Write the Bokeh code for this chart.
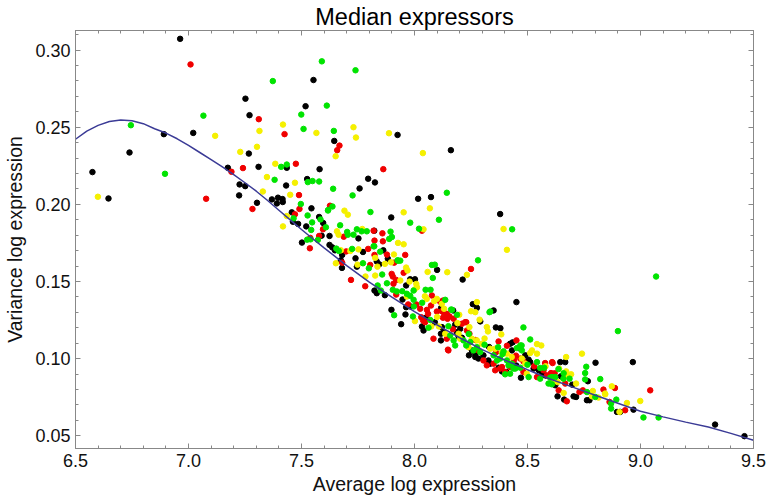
from bokeh.plotting import figure
from bokeh.models import Range1d, FixedTicker, PrintfTickFormatter, LinearAxis
from bokeh.embed import file_html
from bokeh.resources import INLINE

# ---- data ----
curve_x = [6.5, 6.55, 6.6, 6.65, 6.7, 6.75, 6.8, 6.85, 6.9, 6.95, 7.0, 7.05, 7.1, 7.15, 7.2, 7.25,
           7.3, 7.35, 7.4, 7.45, 7.5, 7.55, 7.6, 7.7, 7.8, 7.9, 8.0,
           8.1, 8.2, 8.3, 8.4, 8.5, 8.6, 8.7, 8.8, 8.9, 9.0, 9.1, 9.2, 9.3, 9.4, 9.5]
curve_y = [0.2422, 0.2475, 0.2512, 0.2537, 0.2547, 0.2542, 0.2523, 0.2490, 0.2462, 0.2425, 0.2382,
           0.2336, 0.2290, 0.2243, 0.2193, 0.2140, 0.2085, 0.2025, 0.1962, 0.1899, 0.1837, 0.1777,
           0.1718, 0.1603, 0.1495, 0.1398, 0.1305, 0.1218, 0.1135, 0.1058, 0.0990,
           0.0928, 0.0868, 0.0815, 0.0762, 0.0710, 0.0658, 0.0622, 0.0588, 0.0556, 0.0515, 0.0471]

black_x = [6.963, 7.252, 7.270, 6.891, 7.021, 6.739, 6.575, 6.646, 7.267, 7.174, 7.310, 7.226, 7.251, 7.224, 7.303,
           7.518, 7.435, 7.580, 7.525, 7.432, 7.369, 7.396, 7.416, 7.553, 7.645, 7.925, 8.161, 7.795, 7.825, 7.757,
           8.016, 8.073, 7.897, 8.379, 7.391, 7.417, 7.544, 7.457, 7.578, 7.462, 7.485, 7.596, 7.521, 7.822, 7.752,
           7.589, 7.502, 7.624, 7.624, 7.636, 7.648, 7.680, 7.772, 7.862, 7.882, 7.674, 7.739, 7.745, 7.679, 7.833,
           7.844, 8.100, 8.213, 8.002, 7.981, 7.963, 7.823, 7.833, 7.869, 7.947, 7.963, 7.982, 7.898, 7.941, 7.960,
           8.118, 8.171, 8.258, 8.276, 8.451, 8.350, 8.291, 8.360, 8.380, 8.434, 8.490, 8.505, 8.667, 8.966, 8.801,
           8.645, 8.767, 8.648, 8.698, 8.623, 8.633, 8.662, 8.704, 8.715, 8.763, 8.774, 8.896, 8.910, 8.969, 9.330,
           9.460, 8.121, 8.128, 8.117, 8.188, 8.195, 8.202, 8.254, 8.269, 8.283, 8.305, 8.327, 8.335, 8.372, 8.387,
           8.423, 8.468, 8.512, 8.527, 8.564, 8.033, 8.040, 8.117, 8.241, 8.269, 8.406, 8.471, 8.431,
           8.05, 8.09, 8.21, 8.33, 8.45, 8.55, 8.58, 8.18]
black_y = [0.3073, 0.2685, 0.2578, 0.2455, 0.2463, 0.2336, 0.2209, 0.2038, 0.2329, 0.2237, 0.2243, 0.2129, 0.2118, 0.2058, 0.2010,
           0.2636, 0.2237, 0.2228, 0.2164, 0.2122, 0.2032, 0.2043, 0.2034, 0.2806, 0.2411, 0.2450, 0.2351, 0.2166, 0.2142, 0.2103,
           0.2036, 0.2047, 0.1915, 0.1937, 0.2006, 0.2015, 0.1974, 0.1948, 0.1918, 0.1887, 0.1873, 0.1879, 0.1857, 0.1829, 0.1779,
           0.1797, 0.1752, 0.1795, 0.1737, 0.1721, 0.1702, 0.1672, 0.1691, 0.1702, 0.1648, 0.1637, 0.1650, 0.1596, 0.1588, 0.1630,
           0.1611, 0.1575, 0.1512, 0.1514, 0.1514, 0.1474, 0.1441, 0.1424, 0.1411, 0.1383, 0.1333, 0.1338, 0.1316, 0.1223, 0.1286,
           0.1329, 0.1312, 0.1353, 0.1329, 0.1366, 0.1312, 0.1241, 0.1202, 0.1197, 0.1105, 0.1021, 0.0993, 0.0977, 0.0977, 0.0973,
           0.0977, 0.0853, 0.0885, 0.0831, 0.0827, 0.0755, 0.0734, 0.0755, 0.0751, 0.0730, 0.0730, 0.0654, 0.0654, 0.0669, 0.0572,
           0.0497, 0.1204, 0.1171, 0.1118, 0.1171, 0.1144, 0.1193, 0.1053, 0.1027, 0.1000, 0.1021, 0.0988, 0.0967, 0.0941, 0.0917,
           0.1096, 0.1064, 0.0977, 0.0935, 0.0902, 0.1208, 0.1182, 0.1161, 0.1021, 0.1010, 0.0913, 0.0876, 0.1053,
           0.1265, 0.1235, 0.1135, 0.1075, 0.0955, 0.0925, 0.0890, 0.1220]

red_x = [7.009, 7.311, 7.078, 7.190, 7.241, 7.283, 7.425, 7.475, 7.489, 7.668, 7.658, 7.862, 7.626, 8.033, 7.858,
         7.860, 7.819, 7.491, 7.471, 7.595, 7.687, 7.823, 7.578, 7.539, 7.537, 7.698, 7.795, 7.878, 7.823, 7.910,
         7.680, 7.804, 7.959, 7.952, 8.250, 7.899, 7.904, 7.919, 7.907, 7.919, 8.077, 8.114, 8.126, 8.073, 8.055,
         8.099, 8.121, 8.126, 7.972, 8.008, 8.025, 8.030, 8.038, 8.047, 8.146, 8.229, 8.451, 8.372, 8.409, 8.449,
         8.468, 8.609, 8.604, 8.571, 8.611, 8.578, 8.667, 8.638, 8.674, 8.730, 8.745, 8.836, 8.887, 9.043, 8.863,
         8.932, 8.128, 8.143, 8.155, 8.173, 8.143, 8.150, 8.210, 8.224, 8.232, 8.243, 8.283, 8.305, 8.320, 8.350,
         8.357, 8.379, 8.401, 8.423, 8.482, 8.542, 8.586, 7.719, 7.782, 8.084, 8.148, 8.482, 8.387,
         8.06, 8.17, 8.27, 8.36, 8.44, 8.53, 8.62]
red_y = [0.2907, 0.2552, 0.2036, 0.2211, 0.2235, 0.1970, 0.2455, 0.2263, 0.2060, 0.2381, 0.2351, 0.2228, 0.1991, 0.1829, 0.1812,
         0.1760, 0.1829, 0.1970, 0.1935, 0.1838, 0.1790, 0.1765, 0.1795, 0.1782, 0.1715, 0.1695, 0.1711, 0.1674, 0.1672, 0.1622,
         0.1622, 0.1607, 0.1672, 0.1556, 0.1581, 0.1549, 0.1532, 0.1510, 0.1485, 0.1415, 0.1409, 0.1368, 0.1376, 0.1344, 0.1316,
         0.1305, 0.1307, 0.1265, 0.1351, 0.1351, 0.1323, 0.1268, 0.1247, 0.1236, 0.1258, 0.1236, 0.1118, 0.1111, 0.1083, 0.1019,
         0.1000, 0.0977, 0.0906, 0.0924, 0.0971, 0.0971, 0.0838, 0.0794, 0.0723, 0.0783, 0.0794, 0.0799, 0.0809, 0.0794, 0.0719,
         0.0665, 0.1301, 0.1290, 0.1273, 0.1258, 0.1129, 0.1053, 0.1226, 0.1236, 0.1182, 0.1161, 0.1053, 0.0988, 0.0956, 0.0967,
         0.0924, 0.0935, 0.0913, 0.0945, 0.0913, 0.0880, 0.0891, 0.1510, 0.1469, 0.1129, 0.1058, 0.0982, 0.0945,
         0.1290, 0.1190, 0.1120, 0.1040, 0.0990, 0.0950, 0.0905]

yellow_x = [7.118, 7.314, 6.599, 7.229, 7.303, 7.418, 7.566, 7.384, 7.347, 7.471, 7.329, 7.450, 7.730, 7.741, 7.651,
            7.887, 8.037, 8.068, 7.952, 8.040, 7.690, 7.705, 7.927, 7.952, 7.769, 7.435, 7.418, 7.657, 7.664, 7.674,
            7.716, 7.752, 7.826, 7.652, 7.748, 7.836, 7.909, 7.869, 7.896, 7.963, 7.969, 8.058, 8.145, 8.232, 7.978,
            8.008, 7.783, 7.826, 7.937, 8.000, 8.011, 8.054, 8.046, 8.099, 8.087, 7.966, 8.002, 8.074, 8.108, 8.198,
            8.250, 8.269, 8.288, 8.243, 8.409, 8.320, 8.325, 8.384, 8.542, 8.561, 8.520, 8.512, 8.542, 8.741, 8.671,
            8.671, 8.693, 8.674, 8.715, 8.615, 8.633, 8.660, 8.789, 8.785, 8.814, 8.843, 8.873, 8.940, 8.999, 8.907,
            8.844, 8.394, 8.121, 8.131, 8.136, 8.195, 8.202, 8.239, 8.254, 8.276, 8.298, 8.335, 8.357, 8.387, 8.409,
            8.475, 8.490, 8.497, 8.276, 8.10, 8.19, 8.31, 8.43, 8.58, 8.64]
yellow_y = [0.2444, 0.2476, 0.2049, 0.2340, 0.2373, 0.2517, 0.2463, 0.2263, 0.2177, 0.2140, 0.2083, 0.2062, 0.2500, 0.2433, 0.2312,
            0.2461, 0.2332, 0.1974, 0.1948, 0.1838, 0.1959, 0.1933, 0.1750, 0.1741, 0.1840, 0.1924, 0.1857, 0.1825, 0.1803, 0.1702,
            0.1698, 0.1708, 0.1653, 0.1618, 0.1609, 0.1596, 0.1675, 0.1614, 0.1624, 0.1590, 0.1571, 0.1562, 0.1560, 0.1543, 0.1499,
            0.1484, 0.1532, 0.1538, 0.1506, 0.1448, 0.1462, 0.1387, 0.1404, 0.1387, 0.1372, 0.1402, 0.1243, 0.1208, 0.1208, 0.1284,
            0.1307, 0.1301, 0.1252, 0.1204, 0.1705, 0.1204, 0.1176, 0.1157, 0.1094, 0.1085, 0.1053, 0.1036, 0.1032, 0.1032, 0.1010,
            0.0917, 0.0898, 0.0891, 0.0838, 0.0853, 0.0848, 0.0777, 0.0790, 0.0755, 0.0747, 0.0773, 0.0820, 0.0712, 0.0725, 0.0654,
            0.0768, 0.1840, 0.1355, 0.1323, 0.1161, 0.1161, 0.1129, 0.1074, 0.1129, 0.1118, 0.1096, 0.1064, 0.1064, 0.1042, 0.1032,
            0.1000, 0.0967, 0.0902, 0.1366, 0.1270, 0.1230, 0.1130, 0.1010, 0.0950, 0.0935]

green_x = [7.066, 6.745, 6.896, 7.612, 7.499, 7.509, 7.410, 7.435, 7.381, 7.528, 7.549, 7.578, 7.590, 7.739, 7.373,
           7.643, 7.640, 7.726, 8.143, 7.981, 8.020, 8.108, 7.618, 7.805, 7.894, 7.900, 7.822, 7.497, 7.637, 7.617,
           7.527, 7.465, 7.547, 7.584, 7.671, 7.543, 7.745, 7.766, 7.789, 7.702, 7.705, 7.730, 7.888, 7.608, 7.572,
           7.525, 7.540, 7.654, 7.665, 7.724, 7.819, 7.848, 7.925, 7.772, 7.798, 7.927, 7.937, 8.077, 8.090, 8.281,
           8.081, 7.857, 7.878, 7.837, 7.851, 7.904, 7.922, 7.946, 7.966, 7.981, 7.996, 8.049, 8.071, 8.136, 8.162,
           8.188, 8.034, 7.996, 7.997, 7.910, 7.993, 8.062, 8.332, 9.069, 8.335, 8.482, 8.512, 8.474, 8.370, 8.394,
           8.453, 8.542, 8.556, 8.574, 8.637, 8.623, 8.600, 8.900, 8.760, 8.755, 8.755, 8.822, 8.659, 8.686, 8.593,
           8.608, 8.763, 8.800, 8.893, 8.870, 8.870, 9.013, 9.080, 8.432, 8.166, 8.158, 8.173, 8.180, 8.217, 8.229,
           8.247, 8.261, 8.276, 8.291, 8.350, 8.365, 8.379, 8.409, 8.416, 8.431, 8.446, 8.468, 8.401, 8.505, 8.556,
           8.608, 8.438, 8.423, 8.468, 8.475, 8.07, 8.15, 8.24, 8.31, 8.39, 8.50, 8.66]
green_y = [0.2575, 0.2513, 0.2198, 0.2640, 0.2582, 0.2489, 0.2243, 0.2258, 0.2159, 0.2144, 0.2151, 0.2148, 0.2927, 0.2869, 0.2799,
           0.2476, 0.2101, 0.2058, 0.2075, 0.1881, 0.1842, 0.1900, 0.1963, 0.1950, 0.1823, 0.1788, 0.1728, 0.2002, 0.1986, 0.1960,
           0.1928, 0.1909, 0.1883, 0.1902, 0.1864, 0.1834, 0.1838, 0.1825, 0.1825, 0.1821, 0.1803, 0.1803, 0.1776, 0.1851, 0.1769,
           0.1771, 0.1773, 0.1713, 0.1698, 0.1711, 0.1728, 0.1693, 0.1637, 0.1618, 0.1585, 0.1635, 0.1635, 0.1607, 0.1609, 0.1637,
           0.1523, 0.1545, 0.1488, 0.1474, 0.1441, 0.1446, 0.1435, 0.1437, 0.1420, 0.1407, 0.1441, 0.1446, 0.1446, 0.1381, 0.1318,
           0.1284, 0.1362, 0.1381, 0.1338, 0.1281, 0.1273, 0.1200, 0.1301, 0.1532, 0.1305, 0.1202, 0.1124, 0.1085, 0.1074, 0.1047,
           0.1068, 0.0977, 0.0939, 0.0941, 0.0932, 0.0880, 0.0876, 0.1178, 0.0947, 0.0906, 0.0865, 0.0867, 0.0870, 0.0870, 0.0838,
           0.0833, 0.0783, 0.0751, 0.0734, 0.0708, 0.0676, 0.0618, 0.0618, 0.1838, 0.1316, 0.1150, 0.1118, 0.1085, 0.1118, 0.1085,
           0.1107, 0.1053, 0.1074, 0.1042, 0.1021, 0.0988, 0.1000, 0.0988, 0.0956, 0.0967, 0.0935, 0.0941, 0.0898, 0.0880, 0.0870,
           0.0880, 0.0935, 0.0902, 0.1085, 0.1053, 0.1250, 0.1210, 0.1160, 0.1090, 0.1030, 0.0960, 0.0905]

x_ticks = [6.5, 7.0, 7.5, 8.0, 8.5, 9.0, 9.5]
y_ticks = [0.05, 0.10, 0.15, 0.20, 0.25, 0.30]

FONT = "Liberation Sans"

p = figure(width=767, height=499, output_backend="svg", toolbar_location=None,
           x_range=Range1d(6.5, 9.5), y_range=Range1d(0.0417, 0.3127),
           min_border_left=75, min_border_right=14, min_border_top=29, min_border_bottom=51,
           title="Median expressors")
p.title.align = "center"
p.title.text_font = FONT
p.title.text_font_size = "23.5px"
p.title.text_font_style = "normal"
p.title.text_color = "#000000"
p.title.standoff = 2

p.background_fill_color = "white"
p.border_fill_color = "white"
p.outline_line_color = "#888888"
p.grid.visible = False

x_minor = [round(6.5 + 0.1 * i, 2) for i in range(31)]
y_minor = [round(0.04 + 0.01 * i, 3) for i in range(28)]

def style(ax, labels=True):
    ax.axis_line_color = "#888888"
    ax.major_tick_line_color = "#888888"
    ax.minor_tick_line_color = "#888888"
    ax.major_tick_in = 5
    ax.major_tick_out = 0
    ax.minor_tick_in = 3
    ax.minor_tick_out = 0
    ax.major_label_text_font = FONT
    ax.major_label_text_font_size = "18px"
    ax.major_label_text_color = "#111111" if labels else None
    ax.axis_label_text_font = FONT
    ax.axis_label_text_font_size = "19.5px"
    ax.axis_label_text_font_style = "normal"
    ax.axis_label_text_color = "#111111"

xt = FixedTicker(ticks=x_ticks, minor_ticks=x_minor)
yt = FixedTicker(ticks=y_ticks, minor_ticks=y_minor)

p.xaxis.ticker = xt
p.yaxis.ticker = yt
p.xaxis.formatter = PrintfTickFormatter(format="%.1f")
p.yaxis.formatter = PrintfTickFormatter(format="%.2f")
p.xaxis.axis_label = "Average log expression"
p.yaxis.axis_label = "Variance log expression"
style(p.xaxis[0])
style(p.yaxis[0])
p.xaxis.major_label_standoff = 5
p.xaxis.axis_label_standoff = 3
p.yaxis.major_label_standoff = 5
p.yaxis.axis_label_standoff = 6

top = LinearAxis(ticker=xt, major_label_standoff=0)
right = LinearAxis(ticker=yt, major_label_standoff=0)
style(top, labels=False)
style(right, labels=False)
p.add_layout(top, "above")
p.add_layout(right, "right")

SIZE = 5.5
p.scatter(black_x, black_y, size=SIZE, color="#000000")
p.scatter(red_x, red_y, size=SIZE, color="#f00000")
p.scatter(yellow_x, yellow_y, size=SIZE, color="#f5f000")
p.scatter(green_x, green_y, size=SIZE, color="#00e400")
p.line(curve_x, curve_y, line_color="#3b3b96", line_width=1.5)

open("out.html", "w").write(file_html(p, INLINE))
